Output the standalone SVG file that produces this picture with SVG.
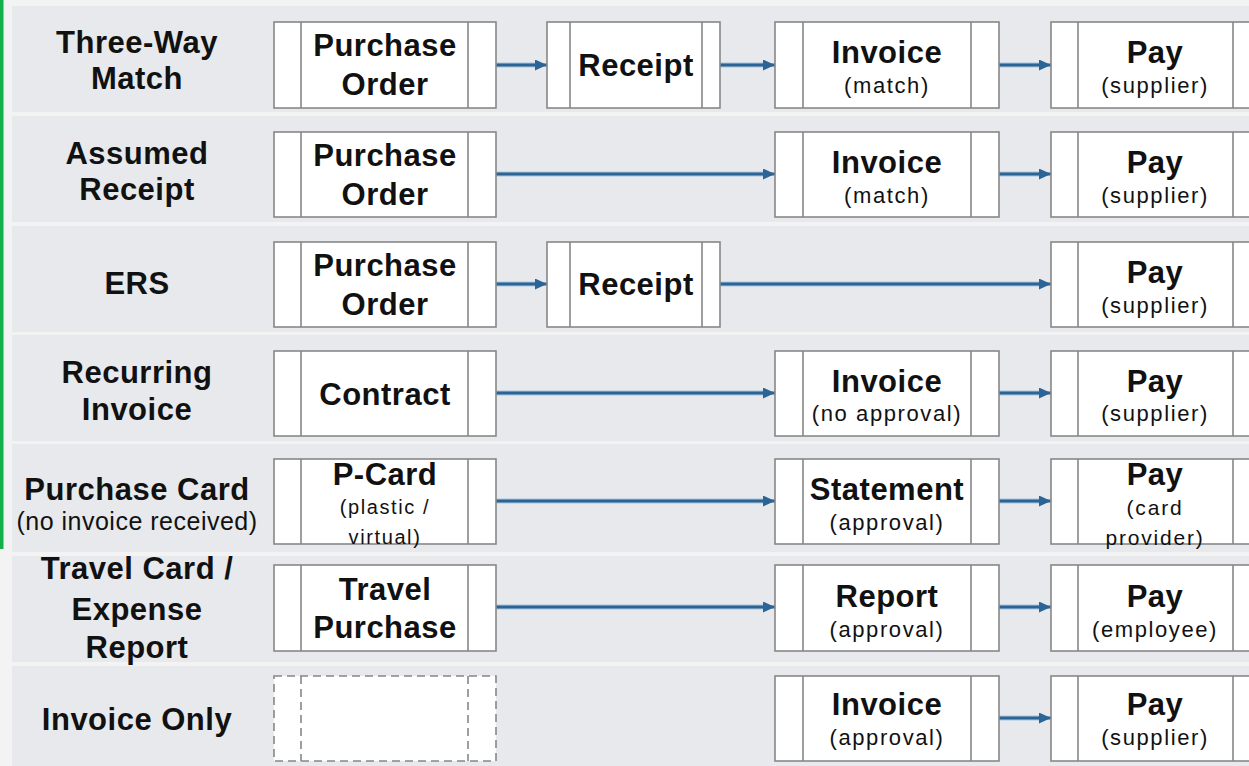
<svg xmlns="http://www.w3.org/2000/svg" width="1249" height="766" viewBox="0 0 1249 766">
<style>
.bg{fill:#f3f3f3}
.band{fill:#e7e9ec}
.box{fill:#fff;stroke:#878787;stroke-width:1.6}
.dv{stroke:#878787;stroke-width:1.6;fill:none}
.dash{stroke-dasharray:8 5}
text{font-family:"Liberation Sans",Arial,Helvetica,sans-serif;text-anchor:middle;fill:#111}
.m{font-size:31px;font-weight:bold;letter-spacing:0.5px}
.s{font-size:22px;letter-spacing:1.6px}
.s2{font-size:21px;letter-spacing:1.8px}
.s3{font-size:20px;letter-spacing:1.6px}
.ls{font-size:25px;letter-spacing:0.5px}
.halo{stroke:#a9c7e1;stroke-width:5;fill:none}
.ln{stroke:#2c6595;stroke-width:2.8;fill:none}
</style>
<defs>
<marker id="ah" markerUnits="userSpaceOnUse" markerWidth="12" markerHeight="11" refX="12" refY="5.5" orient="auto">
<path d="M0,0 L12,5.5 L0,11 Z" fill="#2c6595"/>
</marker>
</defs>
<rect class="bg" x="0" y="0" width="1249" height="766"/>
<rect x="0" y="0" width="3.5" height="549" fill="#14b04c"/>
<g id="bands">
<rect class="band" x="12" y="6" width="1237" height="106"/>
<rect class="band" x="12" y="116" width="1237" height="106"/>
<rect class="band" x="12" y="226" width="1237" height="106"/>
<rect class="band" x="12" y="335" width="1237" height="106"/>
<rect class="band" x="12" y="444" width="1237" height="108"/>
<rect class="band" x="12" y="556" width="1237" height="106"/>
<rect class="band" x="12" y="666" width="1237" height="100"/>
</g>
<g id="labels">
<text class="m" x="137" y="53">Three-Way</text>
<text class="m" x="137" y="89">Match</text>
<text class="m" x="137" y="164">Assumed</text>
<text class="m" x="137" y="200">Receipt</text>
<text class="m" x="137" y="294">ERS</text>
<text class="m" x="137" y="383">Recurring</text>
<text class="m" x="137" y="420">Invoice</text>
<text class="m" x="137" y="500">Purchase Card</text>
<text class="ls" x="137" y="530">(no invoice received)</text>
<text class="m" x="137" y="579">Travel Card /</text>
<text class="m" x="137" y="620">Expense</text>
<text class="m" x="137" y="658">Report</text>
<text class="m" x="137" y="730">Invoice Only</text>
</g>
<g id="connectors">
<line class="halo" x1="496" y1="65" x2="537" y2="65"/><line class="ln" x1="496" y1="65" x2="547" y2="65" marker-end="url(#ah)"/>
<line class="halo" x1="720" y1="65" x2="765" y2="65"/><line class="ln" x1="720" y1="65" x2="775" y2="65" marker-end="url(#ah)"/>
<line class="halo" x1="999" y1="65" x2="1041" y2="65"/><line class="ln" x1="999" y1="65" x2="1051" y2="65" marker-end="url(#ah)"/>
<line class="halo" x1="496" y1="174" x2="765" y2="174"/><line class="ln" x1="496" y1="174" x2="775" y2="174" marker-end="url(#ah)"/>
<line class="halo" x1="999" y1="174" x2="1041" y2="174"/><line class="ln" x1="999" y1="174" x2="1051" y2="174" marker-end="url(#ah)"/>
<line class="halo" x1="496" y1="284" x2="537" y2="284"/><line class="ln" x1="496" y1="284" x2="547" y2="284" marker-end="url(#ah)"/>
<line class="halo" x1="720" y1="284" x2="1041" y2="284"/><line class="ln" x1="720" y1="284" x2="1051" y2="284" marker-end="url(#ah)"/>
<line class="halo" x1="496" y1="393" x2="765" y2="393"/><line class="ln" x1="496" y1="393" x2="775" y2="393" marker-end="url(#ah)"/>
<line class="halo" x1="999" y1="393" x2="1041" y2="393"/><line class="ln" x1="999" y1="393" x2="1051" y2="393" marker-end="url(#ah)"/>
<line class="halo" x1="496" y1="501" x2="765" y2="501"/><line class="ln" x1="496" y1="501" x2="775" y2="501" marker-end="url(#ah)"/>
<line class="halo" x1="999" y1="501" x2="1041" y2="501"/><line class="ln" x1="999" y1="501" x2="1051" y2="501" marker-end="url(#ah)"/>
<line class="halo" x1="496" y1="607" x2="765" y2="607"/><line class="ln" x1="496" y1="607" x2="775" y2="607" marker-end="url(#ah)"/>
<line class="halo" x1="999" y1="607" x2="1041" y2="607"/><line class="ln" x1="999" y1="607" x2="1051" y2="607" marker-end="url(#ah)"/>
<line class="halo" x1="999" y1="718" x2="1041" y2="718"/><line class="ln" x1="999" y1="718" x2="1051" y2="718" marker-end="url(#ah)"/>
</g>
<g id="r1-po"><rect class="box" x="274" y="22" width="222" height="86"/><path class="dv" d="M301,22V108M468,22V108"/><text class="m" x="385" y="56">Purchase</text><text class="m" x="385" y="95">Order</text></g>
<g id="r1-receipt"><rect class="box" x="547" y="22" width="173" height="86"/><path class="dv" d="M570,22V108M702,22V108"/><text class="m" x="636" y="76">Receipt</text></g>
<g id="r1-invoice"><rect class="box" x="775" y="22" width="224" height="86"/><path class="dv" d="M803,22V108M971,22V108"/><text class="m" x="887" y="63">Invoice</text><text class="s" x="887" y="93">(match)</text></g>
<g id="r1-pay"><rect class="box" x="1051" y="22" width="215" height="86"/><path class="dv" d="M1078,22V108M1233,22V108"/><text class="m" x="1155" y="63">Pay</text><text class="s" x="1155" y="93">(supplier)</text></g>
<g id="r2-po"><rect class="box" x="274" y="132" width="222" height="85"/><path class="dv" d="M301,132V217M468,132V217"/><text class="m" x="385" y="166">Purchase</text><text class="m" x="385" y="205">Order</text></g>
<g id="r2-invoice"><rect class="box" x="775" y="132" width="224" height="85"/><path class="dv" d="M803,132V217M971,132V217"/><text class="m" x="887" y="173">Invoice</text><text class="s" x="887" y="203">(match)</text></g>
<g id="r2-pay"><rect class="box" x="1051" y="132" width="215" height="85"/><path class="dv" d="M1078,132V217M1233,132V217"/><text class="m" x="1155" y="173">Pay</text><text class="s" x="1155" y="203">(supplier)</text></g>
<g id="r3-po"><rect class="box" x="274" y="242" width="222" height="85"/><path class="dv" d="M301,242V327M468,242V327"/><text class="m" x="385" y="276">Purchase</text><text class="m" x="385" y="315">Order</text></g>
<g id="r3-receipt"><rect class="box" x="547" y="242" width="173" height="85"/><path class="dv" d="M570,242V327M702,242V327"/><text class="m" x="636" y="295">Receipt</text></g>
<g id="r3-pay"><rect class="box" x="1051" y="242" width="215" height="85"/><path class="dv" d="M1078,242V327M1233,242V327"/><text class="m" x="1155" y="283">Pay</text><text class="s" x="1155" y="313">(supplier)</text></g>
<g id="r4-contract"><rect class="box" x="274" y="351" width="222" height="85"/><path class="dv" d="M301,351V436M468,351V436"/><text class="m" x="385" y="405">Contract</text></g>
<g id="r4-invoice"><rect class="box" x="775" y="351" width="224" height="85"/><path class="dv" d="M803,351V436M971,351V436"/><text class="m" x="887" y="392">Invoice</text><text class="s" x="887" y="421">(no approval)</text></g>
<g id="r4-pay"><rect class="box" x="1051" y="351" width="215" height="85"/><path class="dv" d="M1078,351V436M1233,351V436"/><text class="m" x="1155" y="392">Pay</text><text class="s" x="1155" y="421">(supplier)</text></g>
<g id="r5-pcard"><rect class="box" x="274" y="459" width="222" height="85"/><path class="dv" d="M301,459V544M468,459V544"/><text class="m" x="385" y="485">P-Card</text><text class="s3" x="385" y="514">(plastic /</text><text class="s3" x="385" y="544">virtual)</text></g>
<g id="r5-statement"><rect class="box" x="775" y="459" width="224" height="85"/><path class="dv" d="M803,459V544M971,459V544"/><text class="m" x="887" y="500">Statement</text><text class="s" x="887" y="530">(approval)</text></g>
<g id="r5-pay"><rect class="box" x="1051" y="459" width="215" height="85"/><path class="dv" d="M1078,459V544M1233,459V544"/><text class="m" x="1155" y="485">Pay</text><text class="s2" x="1155" y="515">(card</text><text class="s2" x="1155" y="545">provider)</text></g>
<g id="r6-travel"><rect class="box" x="274" y="565" width="222" height="86"/><path class="dv" d="M301,565V651M468,565V651"/><text class="m" x="385" y="600">Travel</text><text class="m" x="385" y="638">Purchase</text></g>
<g id="r6-report"><rect class="box" x="775" y="565" width="224" height="86"/><path class="dv" d="M803,565V651M971,565V651"/><text class="m" x="887" y="607">Report</text><text class="s" x="887" y="637">(approval)</text></g>
<g id="r6-pay"><rect class="box" x="1051" y="565" width="215" height="86"/><path class="dv" d="M1078,565V651M1233,565V651"/><text class="m" x="1155" y="607">Pay</text><text class="s" x="1155" y="637">(employee)</text></g>
<g id="r7-empty"><rect class="box dash" x="274" y="676" width="222" height="85"/><path class="dv dash" d="M301,676V761M468,676V761"/></g>
<g id="r7-invoice"><rect class="box" x="775" y="676" width="224" height="85"/><path class="dv" d="M803,676V761M971,676V761"/><text class="m" x="887" y="715">Invoice</text><text class="s" x="887" y="745">(approval)</text></g>
<g id="r7-pay"><rect class="box" x="1051" y="676" width="215" height="85"/><path class="dv" d="M1078,676V761M1233,676V761"/><text class="m" x="1155" y="715">Pay</text><text class="s" x="1155" y="745">(supplier)</text></g>
</svg>
